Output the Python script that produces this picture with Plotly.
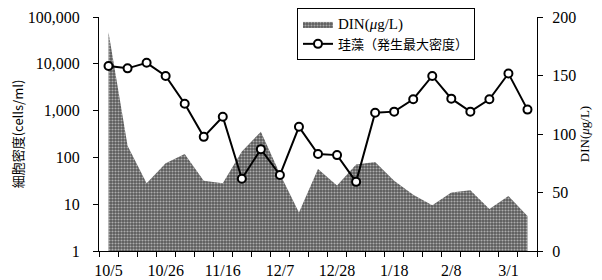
import plotly.graph_objects as go

dates = ["10/5", "10/12", "10/19", "10/26", "11/2", "11/9", "11/16", "11/23", "11/30",
         "12/7", "12/14", "12/21", "12/28", "1/4", "1/11", "1/18", "1/25", "2/1", "2/8",
         "2/15", "2/22", "3/1", "3/8"]
diatom = [9000, 8000, 10500, 5500, 1400, 275, 740, 35, 150, 42, 450, 118, 112, 30,
          900, 950, 1750, 5500, 1800, 950, 1750, 6200, 1050]
din = [187, 90, 58, 75, 83, 60, 58, 85, 102, 66, 33, 70, 56, 74, 76, 60, 48, 39, 50,
       52, 36, 47, 30]
left_ticks = [1, 10, 100, 1000, 10000, 100000]
left_ticktext = ["1", "10", "100", "1,000", "10,000", "100,000"]

x = list(range(len(dates)))
label_idx = x[::3]

FONT = "Liberation Serif, Noto Sans CJK JP"

fig = go.Figure()
fig.add_trace(go.Scatter(
    x=x, y=din, name="<span style='font-size:15px'>DIN(<i>μ</i>g/L)</span>",
    mode="lines", fill="tozeroy",
    line=dict(width=0, color="#666"),
    fillpattern=dict(shape=".", fgcolor="white", bgcolor="#5a5a5a", size=3, solidity=0.4),
    yaxis="y",
))
fig.add_trace(go.Scatter(
    x=x, y=diatom, name="珪藻（発生最大密度）", mode="lines+markers",
    line=dict(color="black", width=2),
    marker=dict(symbol="circle", size=8, color="white", line=dict(color="black", width=2)),
    yaxis="y2",
))

# The page body has an 8px margin, so the figure is shrunk and offset accordingly.
fig.update_layout(
    width=594, height=272,
    margin=dict(l=91, r=65, t=9, b=29, autoexpand=False),
    paper_bgcolor="white", plot_bgcolor="white",
    font=dict(family=FONT, size=16, color="black"),
    showlegend=True,
    legend=dict(x=0.452, y=1.0385, xanchor="left", yanchor="top",
                bordercolor="black", borderwidth=1, bgcolor="white",
                font=dict(size=13, family="Liberation Serif, Noto Sans CJK JP"),
                tracegroupgap=0, itemwidth=30),
    xaxis=dict(
        range=[-0.5, len(dates) - 0.5], showgrid=False, zeroline=False, automargin=False,
        showline=True, linecolor="black", linewidth=1,
        tickmode="array", tickvals=label_idx, ticktext=[dates[i] for i in label_idx],
        ticks="outside", ticklen=5, tickcolor="rgba(0,0,0,0)",
        minor=dict(tickmode="array", tickvals=[i - 0.5 for i in range(len(dates) + 1)],
                   ticks="outside", ticklen=5, tickcolor="black", showgrid=False),
    ),
    yaxis=dict(
        side="right", range=[0, 200], dtick=50, showgrid=False, zeroline=False,
        automargin=False,
        showline=True, linecolor="black", linewidth=1,
        ticks="outside", ticklen=5, tickcolor="black",
        ticklabelstandoff=6,
        title=dict(text="DIN(<i>μ</i>g/L)", font=dict(size=13), standoff=4),
    ),
    yaxis2=dict(
        overlaying="y", side="left", type="log", range=[0, 5], showgrid=False,
        automargin=False,
        zeroline=False, showline=True, linecolor="black", linewidth=1,
        tickmode="array", tickvals=left_ticks, ticktext=left_ticktext,
        ticks="outside", ticklen=5, tickcolor="black",
        ticklabelstandoff=10,
        title=dict(text="細胞密度(cells/ml)",
                   font=dict(size=13, family="Noto Sans CJK JP"), standoff=6),
    ),
)

fig.write_html("out.html")
